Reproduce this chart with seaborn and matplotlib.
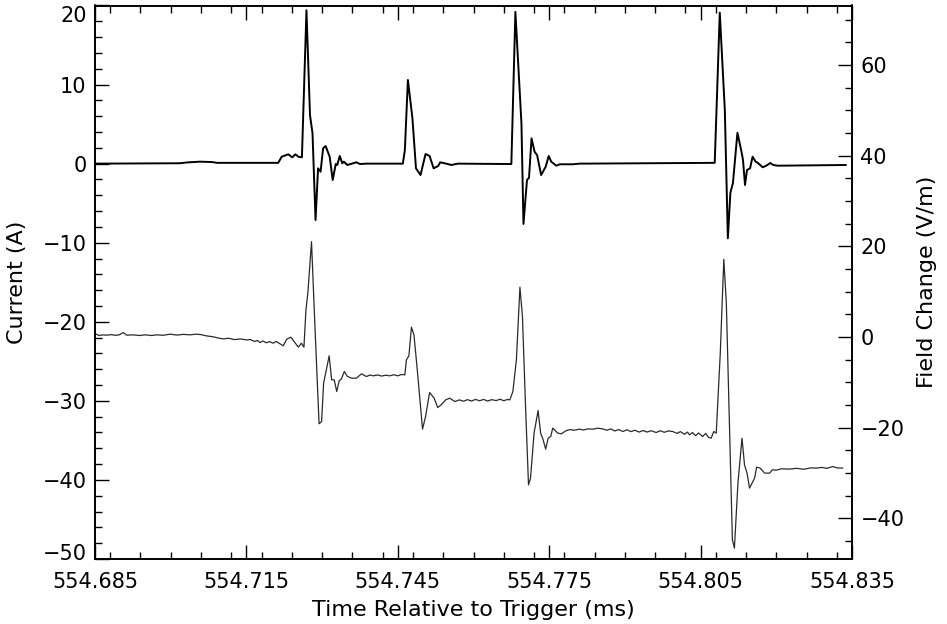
import pandas as pd
import matplotlib
matplotlib.use("Agg")
import matplotlib.pyplot as plt
import matplotlib.transforms as mtransforms
from matplotlib.ticker import MultipleLocator
import seaborn as sns

# --- Data (time relative to trigger, ms) ---
# upper trace: current, left axis (A)
current_time = [
    554.6851, 554.7018, 554.7032, 554.7058, 554.7082, 554.7092, 554.7213,
    554.7220, 554.7233, 554.7241, 554.7247, 554.7253, 554.7260,
    554.7269, 554.7276, 554.7281, 554.7287, 554.7292, 554.7297, 554.7302,
    554.7307, 554.7312, 554.7315, 554.7321, 554.7327, 554.7330, 554.7335,
    554.7340, 554.7343, 554.7350, 554.7368, 554.7375, 554.7388, 554.7460,
    554.7464, 554.7470, 554.7479, 554.7486, 554.7495, 554.7505, 554.7513,
    554.7521, 554.7530, 554.7534, 554.7546, 554.7556, 554.7569, 554.7675,
    554.7683, 554.7695, 554.7699, 554.7706, 554.7710, 554.7715, 554.7721,
    554.7726, 554.7734, 554.7743, 554.7749, 554.7754, 554.7764, 554.7771,
    554.7797, 554.7810, 554.8078,
    554.8088, 554.8098, 554.8104, 554.8109, 554.8114, 554.8123, 554.8131,
    554.8134, 554.8138, 554.8142, 554.8148, 554.8153, 554.8159, 554.8163,
    554.8173, 554.8180, 554.8188, 554.8194, 554.8203, 554.8338,
]
current_amps = [
    0.0, 0.05, 0.15, 0.25, 0.2, 0.1, 0.1,
    0.88, 1.18, 0.8, 1.18, 0.88, 0.8,
    19.4, 6.15, 3.84, -7.13, -0.59, -1.02, 1.94,
    2.23, 1.38, 0.88, -2.07, -0.05, -0.17, 0.97,
    0.04, 0.25, -0.17, 0.17, -0.05, 0.0, 0.0,
    1.72, 10.58, 5.73, -0.59, -1.44, 1.22, 0.97,
    -0.59, -0.3, 0.17, 0.0, -0.17, 0.0, -0.05,
    19.2, 5.1, -7.63, -2.07, -1.78, 3.2, 1.51,
    1.09, -1.44, -0.39, 0.97, 0.25, -0.26, -0.08,
    -0.08, 0.0, 0.1,
    19.1, 6.78, -9.44, -3.67, -2.49, 3.91, 1.51,
    0.46, -2.7, -0.8, -0.59, 0.88, 0.25, 0.12,
    -0.46, -0.26, 0.08, -0.17, -0.26, -0.17,
]

# lower trace: field change, right axis (V/m)
field_time = [
    554.6851, 554.6858, 554.6866, 554.6873, 554.6882, 554.6890, 554.6898,
    554.6906, 554.6913, 554.6925, 554.6938, 554.6950, 554.6962, 554.6972,
    554.6985, 554.6999, 554.7012, 554.7025, 554.7038, 554.7051, 554.7060,
    554.7071, 554.7085, 554.7096, 554.7104, 554.7115, 554.7126, 554.7138,
    554.7150, 554.7158, 554.7166, 554.7172, 554.7177, 554.7183, 554.7189,
    554.7196, 554.7203, 554.7209, 554.7216, 554.7223, 554.7230, 554.7238,
    554.7246, 554.7253, 554.7259, 554.7264, 554.7268, 554.7272, 554.7279,
    554.7285, 554.7294, 554.7299, 554.7303, 554.7314, 554.7319, 554.7324,
    554.7329, 554.7334, 554.7338, 554.7344, 554.7350, 554.7358, 554.7368,
    554.7378, 554.7388, 554.7395, 554.7401, 554.7410, 554.7418, 554.7426,
    554.7434, 554.7442, 554.7450, 554.7457, 554.7464, 554.7467, 554.7472,
    554.7477, 554.7482, 554.7488, 554.7499, 554.7505, 554.7513, 554.7522,
    554.7529, 554.7536, 554.7545, 554.7553, 554.7563, 554.7572, 554.7580,
    554.7588, 554.7596, 554.7604, 554.7612, 554.7620, 554.7628, 554.7636,
    554.7645, 554.7653, 554.7660, 554.7667, 554.7672, 554.7678, 554.7685,
    554.7692, 554.7697, 554.7703, 554.7709, 554.7713, 554.7720, 554.7728,
    554.7733, 554.7738, 554.7743, 554.7748, 554.7753, 554.7757, 554.7767,
    554.7774, 554.7784, 554.7792, 554.7800, 554.7810, 554.7818, 554.7826,
    554.7837, 554.7846, 554.7856, 554.7864, 554.7872, 554.7880, 554.7888,
    554.7896, 554.7904, 554.7912, 554.7920, 554.7928, 554.7936, 554.7944,
    554.7952, 554.7962, 554.7970, 554.7978, 554.7986, 554.7995, 554.8003,
    554.8010, 554.8018, 554.8024, 554.8028, 554.8034, 554.8040, 554.8046,
    554.8054, 554.8060, 554.8066, 554.8071, 554.8076, 554.8081, 554.8089,
    554.8096, 554.8101, 554.8107, 554.8113, 554.8117, 554.8124, 554.8132,
    554.8137, 554.8142, 554.8147, 554.8157, 554.8161, 554.8168, 554.8177,
    554.8187, 554.8192, 554.8200, 554.8210, 554.8226, 554.8240, 554.8255,
    554.8268, 554.8279, 554.8290, 554.8300, 554.8312, 554.8320, 554.8332,
]
field_vm = [
    0.66, 0.3, 0.45, 0.37, 0.5, 0.35, 0.45,
    0.95, 0.37, 0.45, 0.3, 0.45, 0.3, 0.45,
    0.35, 0.6, 0.4, 0.55, 0.45, 0.6, 0.5,
    0.22, 0.0, -0.3, -0.44, -0.3, -0.6, -0.45,
    -0.66, -0.6, -1.0, -0.8, -1.26, -0.9, -1.3,
    -1.04, -1.4, -1.0, -1.5, -1.98, -0.51, -0.07,
    -1.26, -2.27, -1.39, -2.27, 5.95, 9.99, 21.0,
    4.48, -19.18, -18.68, -10.21, -4.19, -9.48, -9.48,
    -12.06, -9.64, -9.33, -7.65, -8.71, -9.11, -9.11,
    -8.16, -8.75, -8.4, -8.6, -8.4, -8.65, -8.45,
    -8.6, -8.35, -8.6, -8.3, -8.38, -5.07, -4.19,
    2.14, 0.44, -6.55, -20.35, -17.57, -12.28, -13.52,
    -15.59, -14.99, -13.89, -13.52, -14.27, -13.9, -14.2,
    -13.85, -14.15, -13.8, -14.1, -13.8, -14.15, -13.85,
    -14.05, -13.75, -14.1, -13.8, -13.89, -12.06, -5.07,
    10.96, 4.48, -14.99, -32.64, -31.16, -21.23, -16.25,
    -21.23, -22.71, -24.76, -22.34, -21.98, -20.13, -21.23,
    -21.39, -20.66, -20.45, -20.6, -20.35, -20.55, -20.3,
    -20.35, -20.15, -20.29, -20.6, -20.3, -20.75, -20.45,
    -20.88, -20.5, -20.9, -20.6, -21.0, -20.65, -21.0,
    -20.7, -21.1, -20.7, -21.05, -20.75, -20.88, -21.3,
    -20.9, -21.5, -21.0, -21.61, -21.1, -21.8, -21.2,
    -21.98, -21.3, -22.2, -22.34, -20.88, -21.23, -3.59,
    17.13, 7.43, -18.3, -44.76, -46.59, -32.26, -22.34,
    -28.22, -30.06, -33.36, -31.16, -28.73, -28.95, -30.06,
    -30.06, -29.33, -29.4, -29.1, -29.17, -29.0, -29.2,
    -28.9, -28.95, -28.8, -29.0, -28.6, -28.9, -28.95,
]

x_ticks = [554.685, 554.715, 554.745, 554.775, 554.805, 554.835]
x_tick_labels = ["554.685", "554.715", "554.745", "554.775", "554.805", "554.835"]
current_ticks = [-50, -40, -30, -20, -10, 0, 10, 20]
field_ticks = [-40, -20, 0, 20, 40, 60]

current_df = pd.DataFrame({"time": current_time, "current": current_amps})
field_df = pd.DataFrame({"time": field_time, "field": field_vm})

# --- Style ---
sns.set_theme(style="ticks")
plt.rcParams["font.family"] = ["DejaVu Sans"]
plt.rcParams["axes.unicode_minus"] = True
plt.rcParams["axes.labelcolor"] = "black"

fig = plt.figure(figsize=(9.47, 6.24), dpi=100)
ax = fig.add_axes([95 / 947, 65 / 624, 757 / 947, 553.5 / 624])
ax2 = ax.twinx()

sns.lineplot(data=current_df, x="time", y="current", ax=ax, color="black",
             linewidth=1.4, estimator=None, sort=False)
sns.lineplot(data=field_df, x="time", y="field", ax=ax2, color="#2a2a2a",
             linewidth=0.9, estimator=None, sort=False)

ax.set_xlim(554.685, 554.835)
ax.set_ylim(-50, 20)
ax2.set_ylim(-49, 73.1)

ax.set_xticks(x_ticks)
ax.set_xticklabels(x_tick_labels)
ax.xaxis.set_minor_locator(MultipleLocator(0.006))
ax.set_yticks(current_ticks)
ax.yaxis.set_minor_locator(MultipleLocator(2))
ax2.set_yticks(field_ticks)
ax2.yaxis.set_minor_locator(MultipleLocator(5))

tick_font = 15
ax.tick_params(axis="both", which="both", direction="in", top=True, right=False,
               width=1.0, colors="black", labelsize=tick_font)
ax.tick_params(axis="both", which="major", length=10)
ax.tick_params(axis="both", which="minor", length=5)
ax.tick_params(axis="x", pad=9)
ax.tick_params(axis="y", pad=6)
ax2.tick_params(axis="y", which="both", direction="in", left=False, right=True,
                width=1.0, colors="black", labelsize=tick_font, pad=6)
ax2.tick_params(axis="y", which="major", length=10)
ax2.tick_params(axis="y", which="minor", length=5)

for a in (ax, ax2):
    for s in a.spines.values():
        s.set_linewidth(1.2)
        s.set_color("black")
        s.set_visible(True)

ax.set_xlabel("Time Relative to Trigger (ms)", fontsize=16, labelpad=6, color="black")
ax.set_ylabel("Current (A)", fontsize=16, labelpad=11, color="black")
ax2.set_ylabel("Field Change (V/m)", fontsize=16, labelpad=9, color="black")

# end labels of the current axis sit inside the frame, as in the original plot
def shift_label(tick, dx, dy):
    off = mtransforms.ScaledTranslation(dx / 100, dy / 100, fig.dpi_scale_trans)
    tick.label1.set_transform(tick.label1.get_transform() + off)

yt = ax.yaxis.get_major_ticks()
shift_label(yt[0], 0, 7)
shift_label(yt[-1], 0, -8)

fig.savefig("out.png", dpi=100)
